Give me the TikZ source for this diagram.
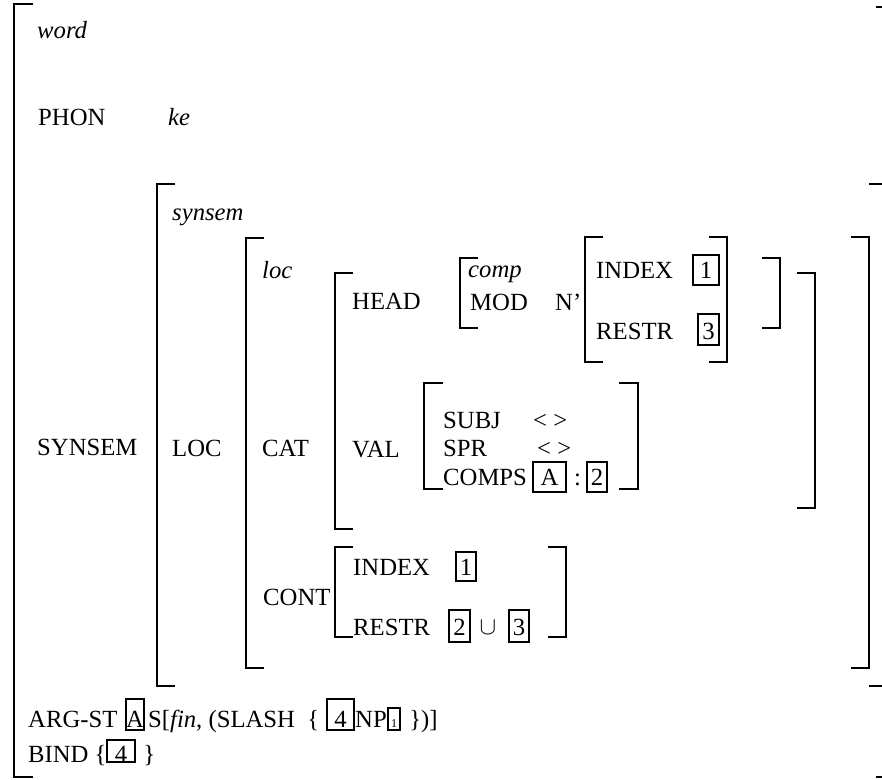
\documentclass[tikz,border=0pt]{standalone}
\usepackage{fontspec}
\setmainfont{Liberation Serif}

\begin{document}
\begin{tikzpicture}[x=1pt, y=-1pt, font=\fontsize{24.7}{29}\selectfont,
  feat/.style={anchor=base west, inner sep=0pt},
  type/.style={anchor=base west, inner sep=0pt, font=\fontsize{24.7}{29}\selectfont\itshape},
  tag/.style={draw, line width=1.6pt, anchor=base, inner sep=0pt, minimum width=20pt, text height=23pt, text depth=7pt},
  brack/.style={line width=1.6pt}]

  \useasboundingbox (0,0) rectangle (882,779);
  \clip (0,0) rectangle (882,779);

  % outer word matrix
  \draw[brack] (33,4) -| (14,777) -- (33,777);
  \draw[brack] (876,7) -| (892,777) -- (876,777);
  \node[type] (word) at (37,38) {word};
  \node[feat] (phon) at (38,125) {PHON};
  \node[type] (ke) at (168,125) {ke};
  \node[feat] (SYNSEM) at (37,455) {SYNSEM};

  % synsem
  \draw[brack] (175,184) -| (157,686) -- (175,686);
  \draw[brack] (869,184) -| (886,686) -- (869,686);
  \node[type] (synsemT) at (172,220) {synsem};
  \node[feat] (LOC) at (172,456) {LOC};

  % loc
  \draw[brack] (264,238) -| (246,668) -- (264,668);
  \draw[brack] (851,237) -| (869,668) -- (851,668);
  \node[type] (locT) at (262,278) {loc};
  \node[feat] (CAT) at (262,456) {CAT};
  \node[feat] (CONT) at (263,605) {CONT};

  % cat
  \draw[brack] (353,273) -| (335,529) -- (353,529);
  \draw[brack] (797,273) -| (815,508) -- (797,508);
  \node[feat] (HEAD) at (352,309) {HEAD};
  \node[feat] (VAL) at (352,457) {VAL};

  % head value
  \draw[brack] (478,258) -| (460,328) -- (478,328);
  \draw[brack] (762,258) -| (780,328) -- (762,328);
  \node[type] (compT) at (468,277) {comp};
  \node[feat] (MOD) at (470,310) {MOD};
  \node[feat] (nbar) at (555,310) {N’};
  \draw[brack] (603,237) -| (585,362) -- (603,362);
  \draw[brack] (709,237) -| (727,362) -- (709,362);
  \node[feat] (hindex) at (596,278) {INDEX};
  \node[feat] (hrestr) at (596,339) {RESTR};
  \node[tag, minimum width=26pt] (t1a) at (706,278) {1};
  \node[tag, minimum width=21pt, text height=25pt, text depth=6pt] (t3a) at (708.5,339) {3};

  % val value
  \draw[brack] (443,383) -| (424,489) -- (443,489);
  \draw[brack] (619,383) -| (638,489) -- (619,489);
  \node[feat] (SUBJ) at (443,428) {SUBJ};
  \node[feat] (SPR) at (443,456) {SPR};
  \node[feat] (COMPS) at (443,485) {COMPS};
  \node[feat] (subjv) at (533,428) {< >};
  \node[feat] (sprv) at (537,456) {< >};
  \node[tag, minimum width=33pt] (tA) at (549.5,485) {A};
  \node[feat] (colon) at (574,485) {:};
  \node[tag] (t2a) at (597,485) {2};

  % cont value
  \draw[brack] (353,547) -| (335,637) -- (353,637);
  \draw[brack] (548,547) -| (566,637) -- (548,637);
  \node[feat] (cindex) at (353,575) {INDEX};
  \node[feat] (crestr) at (353,635) {RESTR};
  \node[tag, text depth=6pt] (t1b) at (466,575) {1};
  \node[tag, minimum width=21pt, text height=25pt] (t2b) at (459.5,635) {2};
  \node[inner sep=0pt] (cup) at (488,628) {$\cup$};
  \node[tag, text height=25pt] (t3b) at (519,635) {3};

  % arg-st and bind
  \node[feat] (argst) at (28,727) {ARG-ST};
  \node[tag, minimum width=18pt, text height=28pt, text depth=3pt] (tAb) at (135,727) {A};
  \node[feat] (sfin) at (148,727) {S[\textit{fin}, (SLASH\ \ \{};
  \node[tag, minimum width=27pt, text height=28pt, text depth=3pt] (t4a) at (340.5,727) {4};
  \node[feat] (np) at (355,727) {NP};
  \node[tag, minimum width=12pt, text height=19pt, text depth=3pt, font=\fontsize{12}{14}\selectfont] (t1c) at (394,727) {1};
  \node[feat] (close) at (403,727) {\ \})]};
  \node[feat] (bind) at (28,762) {BIND \{};
  \node[tag, minimum width=28pt, text height=22pt, text depth=0pt] (t4b) at (121,762) {4};
  \node[feat] (bclose) at (137,762) {\ \}};
\end{tikzpicture}
\end{document}
